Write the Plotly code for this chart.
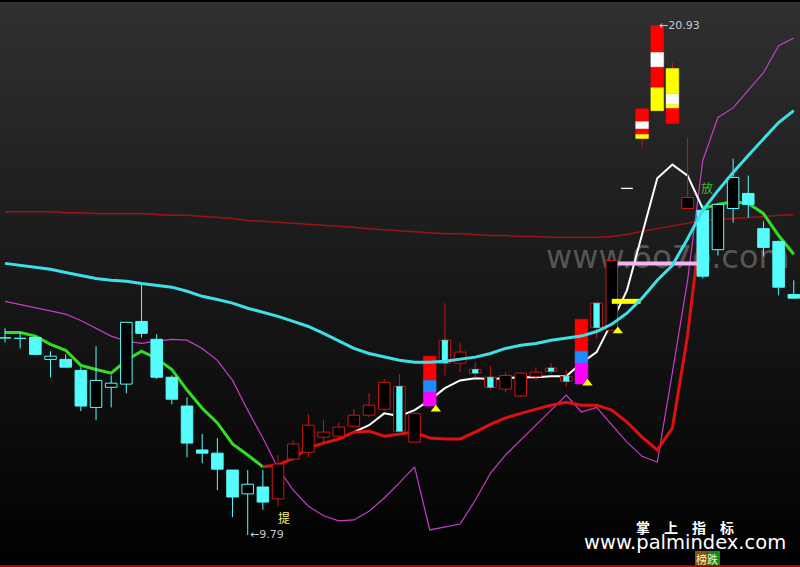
import plotly.graph_objects as go

# ---------------- data (prices) ----------------
opens = [14.10, 14.09, 14.11, 13.63, 13.63, 13.39, 12.58, 13.02, 13.09, 14.46,
         14.07, 13.24, 12.61, 11.65, 11.58, 11.21, 10.69, 10.84, 10.58, 11.45,
         11.60, 11.93, 11.95, 12.17, 12.41, 12.54, 13.04, 11.82, 12.61, 14.05,
         13.55, 13.41, 13.24, 12.98, 12.83, 13.26, 13.44, 13.26, 13.09, 14.86,
         14.27, 17.37, 18.46, 19.07, 18.79, 16.93, 16.89, 16.03, 16.93, 17.26,
         16.49, 16.21, 15.05]
highs = [14.31, 14.22, 14.14, 13.81, 13.74, 13.46, 13.92, 13.28, 14.44, 15.29,
         14.18, 13.28, 12.80, 12.00, 11.91, 11.21, 11.21, 11.21, 11.54, 11.86,
         12.43, 12.30, 12.24, 12.54, 12.89, 13.20, 13.31, 12.45, 13.70, 14.86,
         14.00, 13.57, 13.48, 13.35, 13.35, 13.46, 13.55, 13.41, 14.51, 14.86,
         15.79, 17.37, 19.11, 20.93, 20.12, 18.48, 17.00, 17.02, 18.02, 17.65,
         16.65, 16.23, 15.36]
lows = [14.00, 13.87, 13.72, 13.24, 13.46, 12.50, 12.30, 12.58, 12.89, 14.11,
        13.20, 12.65, 11.49, 11.36, 10.77, 10.18, 9.79, 10.34, 10.42, 11.41,
        11.49, 11.80, 11.86, 12.15, 12.37, 12.50, 12.04, 11.82, 12.61, 13.28,
        13.35, 13.22, 12.96, 12.91, 12.80, 13.17, 13.31, 13.02, 13.09, 14.09,
        14.27, 17.37, 18.28, 19.07, 18.79, 16.93, 15.40, 15.90, 16.62, 16.73,
        15.88, 15.03, 14.97]
closes = [14.11, 14.09, 13.74, 13.70, 13.46, 12.61, 13.17, 13.11, 14.44, 14.20,
          13.24, 12.76, 11.80, 11.58, 11.23, 10.62, 10.90, 10.51, 11.34, 11.78,
          12.19, 12.04, 12.15, 12.41, 12.63, 13.13, 12.06, 12.45, 13.70, 13.55,
          13.79, 13.33, 13.02, 13.28, 13.33, 13.35, 13.37, 13.15, 14.51, 14.33,
          15.79, 17.37, 19.11, 20.93, 19.99, 17.17, 15.45, 17.02, 17.61, 17.02,
          16.08, 15.21, 14.97]
regime = ["cool"] * 18 + ["hot"] * 28 + ["cool"] * 7
flat_white = [41]

ma_long = [16.86, 16.86, 16.86, 16.86, 16.84, 16.84, 16.82, 16.82, 16.82, 16.82,
           16.80, 16.78, 16.78, 16.76, 16.73, 16.71, 16.67, 16.65, 16.62, 16.60,
           16.58, 16.56, 16.54, 16.52, 16.49, 16.47, 16.45, 16.43, 16.41, 16.38,
           16.38, 16.36, 16.34, 16.34, 16.32, 16.32, 16.30, 16.30, 16.30, 16.30,
           16.32, 16.36, 16.43, 16.49, 16.56, 16.62, 16.67, 16.69, 16.71, 16.73,
           16.76, 16.78, 16.80]
ma_mid = [15.73, 15.69, 15.64, 15.60, 15.53, 15.47, 15.40, 15.36, 15.34, 15.29,
          15.25, 15.21, 15.12, 15.01, 14.94, 14.86, 14.75, 14.66, 14.57, 14.46,
          14.35, 14.20, 14.03, 13.87, 13.76, 13.68, 13.61, 13.57, 13.57, 13.59,
          13.63, 13.68, 13.76, 13.87, 13.94, 13.98, 14.05, 14.09, 14.14, 14.24,
          14.40, 14.64, 14.97, 15.36, 15.69, 16.27, 16.89, 17.32, 17.72, 18.09,
          18.46, 18.81, 19.07]
band = [14.90, 14.83, 14.75, 14.68, 14.62, 14.48, 14.31, 14.14, 14.03, 13.98,
        14.03, 14.07, 14.05, 13.87, 13.61, 13.17, 12.52, 11.91, 11.25, 10.77,
        10.42, 10.21, 10.10, 10.12, 10.31, 10.60, 10.93, 11.28, 9.90, 9.97,
        10.03, 10.55, 11.14, 11.54, 11.86, 12.19, 12.52, 12.85, 12.48, 12.58,
        12.19, 11.82, 11.51, 11.38, 13.35, 15.36, 17.98, 18.92, 19.13, 19.51,
        19.90, 20.49, 20.66]
trend = [14.22, 14.22, 14.14, 13.96, 13.83, 13.50, 13.41, 13.33, 13.61, 13.81,
         13.65, 13.41, 12.96, 12.56, 12.24, 11.78, 11.54, 11.28, 11.32, 11.47,
         11.69, 11.80, 11.89, 12.04, 12.06, 11.95, 12.00, 12.04, 11.91, 11.89,
         11.89, 12.04, 12.21, 12.35, 12.45, 12.54, 12.63, 12.69, 12.63, 12.63,
         12.52, 12.26, 11.93, 11.65, 12.13, 14.16, 16.93, 17.02, 17.08, 17.04,
         16.82, 16.34, 15.93]
fast = [None] * 23 + [12.04, 12.19, 12.45, 12.39, 12.52, 12.74, 13.00, 13.17,
                      13.22, 13.20, 13.22, 13.24, 13.24, 13.26, 13.26, 13.55,
                      13.79, 14.44, 15.14, 16.34, 17.59, 17.89, 17.65, 16.93] + [None] * 6

# signal bars: (candle index, top, bottom, kind)
seg_idx = [28, 28, 28, 38, 38, 38, 42, 42, 42, 42, 43, 43, 43, 43, 44, 44, 44, 44]
seg_top = [13.70, 13.17, 12.91, 14.51, 13.81, 13.55, 19.11, 18.83, 18.68, 18.55,
           20.93, 20.34, 20.03, 19.57, 19.99, 19.44, 19.20, 19.13]
seg_bot = [13.17, 12.91, 12.61, 13.81, 13.55, 13.09, 18.83, 18.68, 18.55, 18.46,
           20.34, 20.03, 19.57, 19.07, 19.44, 19.20, 19.13, 18.79]
seg_kind = ["red", "blue", "magenta", "red", "blue", "magenta",
            "red", "white", "red", "yellow", "red", "white", "red", "yellow",
            "yellow", "white", "yellow", "red"]

tri_idx = [28, 38, 40]
tri_val = [12.54, 13.11, 14.25]

pink_level, pink_from, pink_to = 15.73, 40.4, 45.7
yellow_level, yellow_from, yellow_to = 14.90, 40.0, 41.9

mark_ti = ("提", 18.36, 10.17)
mark_fang = ("放", 46.31, 17.40)

# ---------------- styles ----------------
CYAN = "#54fcfc"
RED_C = "#cc1616"
SEG_COL = {"red": "#ff0000", "blue": "#1e8cff", "magenta": "#ff00ff",
           "white": "#ffffff", "yellow": "#ffff00"}
HW, IW, SW = 0.38, 0.19, 0.42

N = len(opens)
X = list(range(N))
fig = go.Figure()

# watermark (drawn first so that all marks lie above it)
fig.add_trace(go.Scatter(x=[43.7], y=[15.80], mode="text", text=["www.6o7o.com"],
                         textposition="middle center", hoverinfo="skip",
                         textfont=dict(family="DejaVu Sans", size=32,
                                       color="rgba(200,200,200,0.36)")))


def add_line(xs, ys, color, width):
    fig.add_trace(go.Scatter(x=xs, y=ys, mode="lines", line=dict(color=color, width=width),
                             hoverinfo="skip", connectgaps=False))


# lines below candles
add_line(X, ma_long, "#9a1515", 1.5)
add_line(X, band, "#c83cc8", 1.2)
add_line(X, fast, "#ffffff", 2)
green_y = [v if (i <= 17 or i >= 46) else None for i, v in enumerate(trend)]
red_y = [v if 17 <= i <= 46 else None for i, v in enumerate(trend)]
add_line(X, green_y, "#33dd22", 3)
add_line(X, red_y, "#e01010", 3)

# wicks
seg_set = set(seg_idx)
wx = {"cool": [], "hot": []}
wy = {"cool": [], "hot": []}
for i in range(N):
    if i in flat_white:
        continue
    o, h, l, c = opens[i], highs[i], lows[i], closes[i]
    top, bot = max(o, c), min(o, c)
    r = regime[i]
    if h > top:
        wx[r] += [i, i, None]
        wy[r] += [top, h, None]
    if l < bot:
        wx[r] += [i, i, None]
        wy[r] += [bot, l, None]
add_line(wx["cool"], wy["cool"], CYAN, 1)
add_line(wx["hot"], wy["hot"], RED_C, 1)


def rects(idxs, tops, bots, hw):
    xs, ys = [], []
    for i, t, b in zip(idxs, tops, bots):
        xs += [i - hw, i + hw, i + hw, i - hw, i - hw, None]
        ys += [b, b, t, t, b, None]
    return xs, ys


def add_rects(idxs, tops, bots, hw, fill, line, lw=1):
    if not idxs:
        return
    xs, ys = rects(idxs, tops, bots, hw)
    fig.add_trace(go.Scatter(x=xs, y=ys, mode="lines", fill="toself", fillcolor=fill,
                             line=dict(color=line, width=lw), hoverinfo="skip"))


groups = {"cool_up": [], "cool_dn": [], "hot_up": [], "hot_dn": [], "flat": []}
for i in range(N):
    if i in seg_set:
        continue
    if i in flat_white:
        groups["flat"].append(i)
        continue
    up = closes[i] >= opens[i]
    groups[regime[i] + ("_up" if up else "_dn")].append(i)


def tb(idx):
    return ([max(opens[i], closes[i]) for i in idx], [min(opens[i], closes[i]) for i in idx])


t, b = tb(groups["cool_up"]); add_rects(groups["cool_up"], t, b, HW, "#000000", CYAN)
t, b = tb(groups["cool_dn"]); add_rects(groups["cool_dn"], t, b, HW, CYAN, CYAN)
t, b = tb(groups["hot_up"]); add_rects(groups["hot_up"], t, b, HW, "#000000", RED_C)
t, b = tb(groups["hot_dn"]); add_rects(groups["hot_dn"], t, b, HW, "#000000", RED_C)
add_rects(groups["hot_dn"], t, b, IW, CYAN, CYAN, 0.5)
t, b = tb(groups["flat"]); add_rects(groups["flat"], t, b, HW, "#000000", "#ffffff")

# signal segments
for kind in SEG_COL:
    ids = [k for k in range(len(seg_idx)) if seg_kind[k] == kind]
    add_rects([seg_idx[k] for k in ids], [seg_top[k] for k in ids], [seg_bot[k] for k in ids],
              SW, SEG_COL[kind], SEG_COL[kind], 0.5)

# level bars
add_line([pink_from, pink_to], [pink_level, pink_level], "#f4b4ee", 4)
add_line([yellow_from, yellow_to], [yellow_level, yellow_level], "#ffff00", 5)

# mid MA on top
add_line(X, ma_mid, "#3ee0e8", 3)

# triangles
fig.add_trace(go.Scatter(x=[i + 0.4 for i in tri_idx], y=tri_val, mode="markers",
                         marker=dict(symbol="triangle-up", size=9, color="#ffff00"),
                         hoverinfo="skip"))

# ---------------- annotations ----------------
lo_i = min(range(N), key=lambda i: lows[i])
hi_i = max(range(N), key=lambda i: highs[i])
credit = ("<span style='font-size:14px;font-weight:bold'>掌　上　指　标</span><br>"
          "<span style='font-size:19.5px;font-family:DejaVu Sans'>www.palmindex.com</span><br>"
          "<span style='font-size:11px;color:#f0f0d0'>　　　　榜跌</span>")
ann = [
    dict(x=lo_i, y=lows[lo_i], text="←%.2f" % lows[lo_i], xanchor="left", yanchor="middle",
         showarrow=False, font=dict(family="DejaVu Sans", size=11, color="#c8c8c8")),
    dict(x=hi_i, y=highs[hi_i], text="←%.2f" % highs[hi_i], xanchor="left", yanchor="middle",
         showarrow=False, font=dict(family="DejaVu Sans", size=11, color="#c8c8c8")),
    dict(x=mark_ti[1], y=mark_ti[2], text=mark_ti[0], showarrow=False,
         xanchor="center", yanchor="middle",
         font=dict(family="Noto Sans CJK SC", size=12, color="#f8f080")),
    dict(x=mark_fang[1], y=mark_fang[2], text=mark_fang[0], showarrow=False,
         xanchor="center", yanchor="middle",
         font=dict(family="Noto Sans CJK SC", size=12, color="#3cbe3c")),
    dict(xref="paper", yref="paper", x=684.5 / 800, y=1 - 542 / 567, xanchor="center",
         yanchor="middle", showarrow=False, text=credit, align="center",
         font=dict(family="Noto Sans CJK SC", size=12, color="#ffffff")),
]

# background gradient + borders
shapes = []
H = 567
step = 9
for k in range(0, H, step):
    v = int(round(48 * (1 - (k + step / 2) / H)))
    shapes.append(dict(type="rect", xref="paper", yref="paper", x0=0, x1=1,
                       y0=max(0, 1 - (k + step) / H), y1=1 - k / H,
                       fillcolor="rgb(%d,%d,%d)" % (v, v, v), line=dict(width=0), layer="below"))
shapes.append(dict(type="rect", xref="paper", yref="paper", x0=0, x1=1, y0=1 - 2 / H, y1=1,
                   fillcolor="#000000", line=dict(width=0), layer="above"))
shapes.append(dict(type="rect", xref="paper", yref="paper", x0=0, x1=1, y0=0, y1=2 / H,
                   fillcolor="#b40000", line=dict(width=0), layer="above"))
# tag backgrounds behind "榜跌"
shapes.append(dict(type="rect", xref="paper", yref="paper", x0=695 / 800, x1=707.5 / 800,
                   y0=1 - 565 / H, y1=1 - 551 / H, fillcolor="#8c500a", line=dict(width=0),
                   layer="above"))
shapes.append(dict(type="rect", xref="paper", yref="paper", x0=707.5 / 800, x1=720 / 800,
                   y0=1 - 565 / H, y1=1 - 551 / H, fillcolor="#148c14", line=dict(width=0),
                   layer="above"))

fig.update_layout(
    width=800, height=567, margin=dict(l=0, r=0, t=0, b=0), autosize=False,
    paper_bgcolor="#000000", plot_bgcolor="rgba(0,0,0,0)", showlegend=False,
    xaxis=dict(range=[-0.33, 52.41], visible=False, fixedrange=True),
    yaxis=dict(range=[9.09, 21.49], visible=False, fixedrange=True),
    annotations=ann, shapes=shapes,
)
fig.write_html("out.html", config={"displayModeBar": False},
               post_script="document.body.style.margin='0';document.body.style.overflow='hidden';")
